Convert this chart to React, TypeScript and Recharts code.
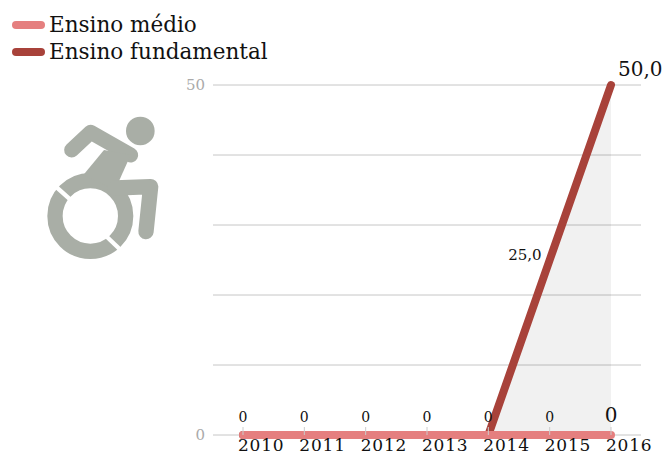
import React from "react";
import { ComposedChart, Area, Line, XAxis, YAxis, CartesianGrid, Legend, LabelList } from "recharts";

const years = ["2010", "2011", "2012", "2013", "2014", "2015", "2016"];
const medio = [0, 0, 0, 0, 0, 0, 0];
const fundamental = [0, 0, 0, 0, 0, 25, 50];
const shaded = [null, null, null, null, 0, 25, 50];
const yTicks = [0, 10, 20, 30, 40, 50];
const yLabels = [0, 50];
const legendItems = [
  { name: "Ensino médio", color: "#e57f7f" },
  { name: "Ensino fundamental", color: "#a8423a" },
];

const data = years.map((year, i) => ({
  year,
  medio: medio[i],
  fundamental: fundamental[i],
  shaded: shaded[i],
}));

const FONT = "'DejaVu Serif', serif";
const LAST = years.length - 1;

const YearTick = (props: any) => {
  const { x, y, payload } = props;
  return (
    <g>
      <line x1={x} x2={x} y1={y - 8} y2={y} stroke="#cccccc" />
      <text x={x - 5} y={y + 16} fontFamily={FONT} fontSize={17} letterSpacing={0.8} fill="#111">
        {payload.value}
      </text>
    </g>
  );
};

const MedioLabel = (props: any) => {
  const { x, y, index, value } = props;
  const last = index === LAST;
  return (
    <text
      x={x}
      y={y - 13}
      textAnchor="middle"
      fontFamily={FONT}
      fontSize={last ? 20 : 14}
      fill="#111"
    >
      {value}
    </text>
  );
};

const FundamentalLabel = (props: any) => {
  const { x, y, index, value } = props;
  if (!value) return null;
  const text = value.toFixed(1).replace(".", ",");
  if (index === LAST) {
    return (
      <text x={x + 7} y={y - 9} fontFamily={FONT} fontSize={20} fill="#111">
        {text}
      </text>
    );
  }
  return (
    <text x={x - 8} y={y} textAnchor="end" fontFamily={FONT} fontSize={15} fill="#111">
      {text}
    </text>
  );
};

const LegendBox = () => (
  <div style={{ fontFamily: FONT, fontSize: 21.5, color: "#111" }}>
    {legendItems.map((item) => (
      <div key={item.name} style={{ display: "flex", alignItems: "center", height: 27 }}>
        <span style={{ width: 33, height: 8, borderRadius: 4, background: item.color, marginRight: 4 }} />
        {item.name}
      </div>
    ))}
  </div>
);

const WheelchairIcon = () => (
  <svg width={200} height={270} style={{ position: "absolute", left: 0, top: 0 }}>
    <g transform="scale(0.3333)" fill="#a9aea6" stroke="#a9aea6">
      <circle cx={421} cy={393} r={43} stroke="none" />
      <circle cx={271} cy={648} r={106} fill="none" strokeWidth={46} />
      <polyline points="215,450 272,397 392,465" fill="none" strokeWidth={45} strokeLinecap="round" strokeLinejoin="round" />
      <polygon points="312,450 392,465 345,570 250,525" stroke="none" />
      <polyline points="345,564 452,560 438,695" fill="none" strokeWidth={46} strokeLinecap="round" strokeLinejoin="round" />
      <line x1={165} y1={558} x2={212} y2={600} stroke="#fff" strokeWidth={13} />
      <line x1={318} y1={708} x2={362} y2={750} stroke="#fff" strokeWidth={13} />
    </g>
  </svg>
);

export default function App() {
  return (
    <div style={{ position: "absolute", left: 0, top: 0, width: 662, height: 455, overflow: "hidden" }}>
      <ComposedChart
        width={662}
        height={455}
        data={data}
        margin={{ top: 85, right: 21, bottom: 0, left: 0 }}
      >
        <CartesianGrid horizontal vertical={false} stroke="#c6c6c6" />
        <XAxis
          dataKey="year"
          height={20}
          padding={{ left: 30, right: 30 }}
          axisLine={false}
          tickLine={false}
          tickSize={0}
          tickMargin={0}
          interval={0}
          tick={<YearTick />}
        />
        <YAxis
          width={213}
          domain={[0, 50]}
          ticks={yTicks}
          axisLine={false}
          tickLine={false}
          tickMargin={2}
          tickFormatter={(v: number) => (yLabels.includes(v) ? String(v) : "")}
          tick={{ fontFamily: FONT, fontSize: 15, fill: "#aaaaaa" }}
        />
        <Legend
          layout="horizontal"
          verticalAlign="middle"
          align="center"
          content={<LegendBox />}
          wrapperStyle={{ position: "absolute", left: 12, top: 11, width: 300 }}
        />
        <Area
          dataKey="shaded"
          type="linear"
          fill="#000000"
          fillOpacity={0.055}
          stroke="none"
          legendType="none"
          dot={false}
          activeDot={false}
          isAnimationActive={false}
        />
        <Line
          dataKey="fundamental"
          name="Ensino fundamental"
          type="linear"
          stroke="#a8423a"
          strokeWidth={8}
          strokeLinecap="round"
          dot={false}
          activeDot={false}
          isAnimationActive={false}
        >
          <LabelList dataKey="fundamental" content={<FundamentalLabel />} />
        </Line>
        <Line
          dataKey="medio"
          name="Ensino médio"
          type="linear"
          stroke="#e57f7f"
          strokeWidth={8}
          strokeLinecap="round"
          dot={false}
          activeDot={false}
          isAnimationActive={false}
        >
          <LabelList dataKey="medio" content={<MedioLabel />} />
        </Line>
      </ComposedChart>
      <WheelchairIcon />
    </div>
  );
}
